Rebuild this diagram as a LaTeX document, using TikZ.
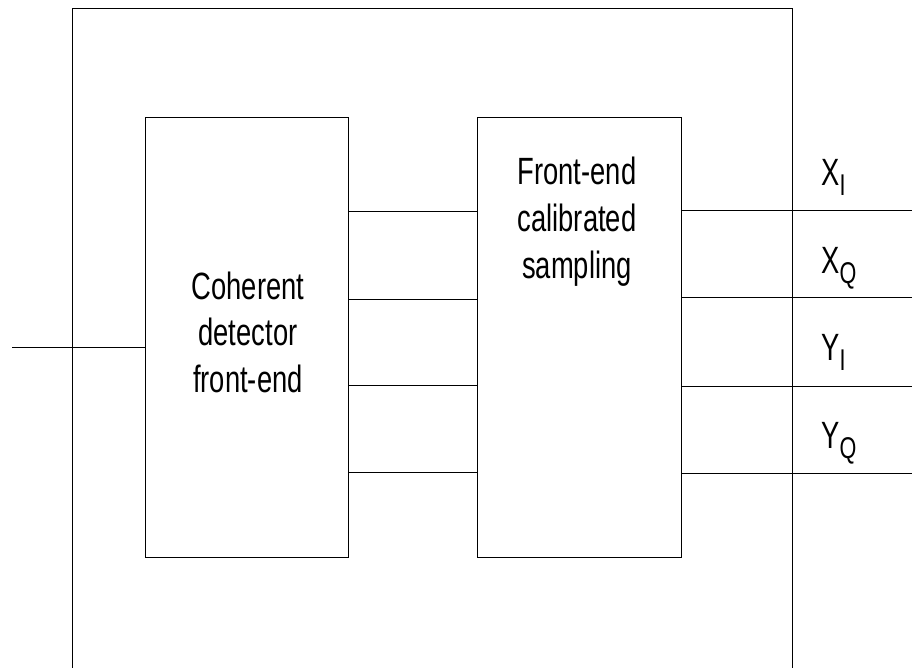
\documentclass[tikz,border=0pt]{standalone}
\usepackage{fontspec}
\newfontfamily\blockfont[FakeStretch=0.72]{Liberation Sans}
\newcommand{\lowsub}[1]{\raisebox{-10pt}{\fontsize{30}{30}\selectfont #1}}
\usetikzlibrary{positioning}

\tikzset{
  block/.style={draw, minimum height=440pt, inner sep=0pt},
  blocktext/.style={font=\blockfont\fontsize{38}{46.5}\selectfont, align=center, inner sep=0pt},
  sig/.style={font=\blockfont\fontsize{38}{46.5}\selectfont, inner sep=0pt, anchor=base west}
}

\begin{document}
\begin{tikzpicture}[x=1pt,y=-1pt,line width=0.9pt]
  \useasboundingbox (0,0) rectangle (912,668);
% Outer frame, open at the bottom
  \draw (72,668) -- (72,8) -- (792,8) -- (792,668);
% Blocks
  \node[block, minimum width=203pt] (det) at (246.5,337) {};
  \node[block, minimum width=204pt] (samp) at (579,337) {};
  \node[blocktext, anchor=base] (dettext) at (248,392) {Coherent\\detector\\front-end};
  \node[blocktext, anchor=base] (samptext) at (577,278) {Front-end\\calibrated\\sampling};
% Input
  \coordinate (in) at (12,347);
  \draw (in) -- (det.west |- in);
% Links between blocks
  \foreach \y in {211,299,385,472}
    \draw (det.east |- 0,\y) -- (samp.west |- 0,\y);
% Outputs
  \foreach \y/\i in {210/1,297/2,386/3,473/4} {
    \coordinate (out\i) at (912,\y);
    \draw (samp.east |- out\i) -- (out\i);
  }
  \node[sig] (xi) at (821,186) {X\lowsub{I}};
  \node[sig] (xq) at (821,273) {X\lowsub{Q}};
  \node[sig] (yi) at (821,360) {Y\lowsub{I}};
  \node[sig] (yq) at (821,448) {Y\lowsub{Q}};
\end{tikzpicture}
\end{document}
